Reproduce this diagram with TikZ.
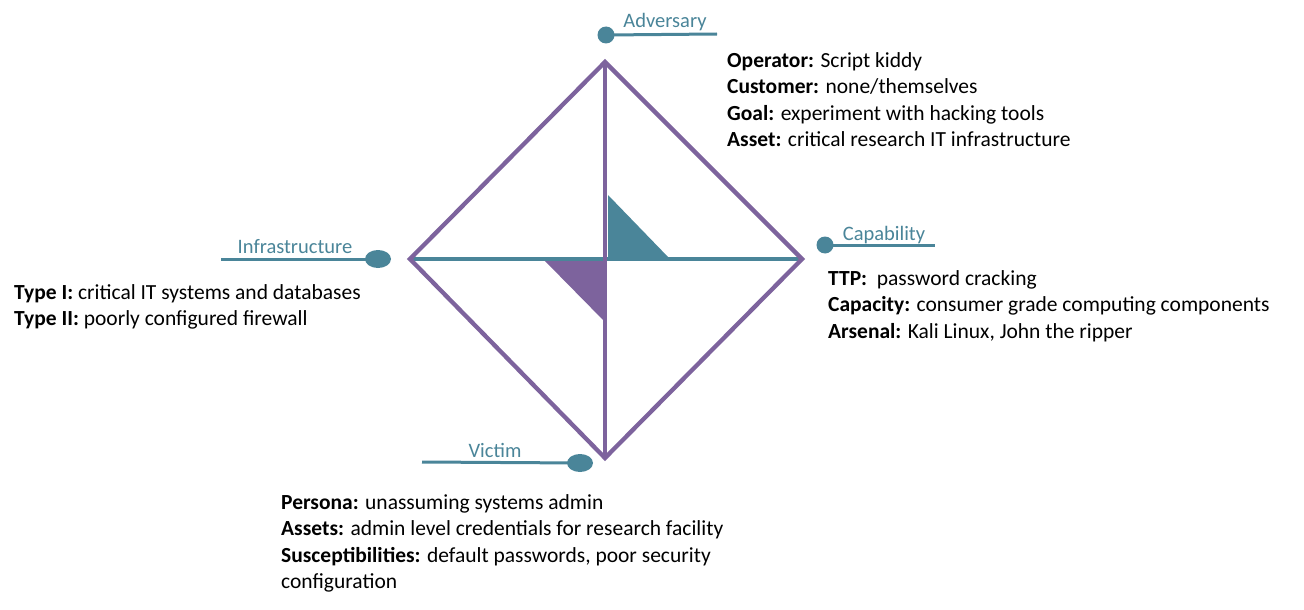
\documentclass[tikz,border=0pt]{standalone}
\usepackage{fontspec}
\setmainfont{Carlito}
\usetikzlibrary{shapes.geometric}
\definecolor{teal1}{RGB}{74,133,153}
\definecolor{purp1}{RGB}{125,99,157}
\begin{document}
\begin{tikzpicture}[x=1pt,y=-1pt,
  edge/.style={purp1,line width=4.3pt,line join=miter},
  axis/.style={teal1,line width=4.3pt},
  conn/.style={teal1,line width=3pt},
  dotc/.style={circle,fill=teal1,inner sep=0pt,minimum size=17pt},
  dote/.style={ellipse,fill=teal1,inner sep=0pt,minimum width=26pt,minimum height=18pt},
  lbl/.style={teal1,font=\fontsize{20.5}{24}\selectfont,anchor=base,inner sep=0pt},
  info/.style={font=\fontsize{21.5}{26.2}\selectfont,align=left,anchor=north west,inner sep=0pt,text=black}
]
\useasboundingbox[fill=white] (0,0) rectangle (1304,610);
% diamond vertices
\coordinate (adv) at (605,62);
\coordinate (cap) at (802,259);
\coordinate (vic) at (605,458);
\coordinate (inf) at (410,259);
% triangles
\fill[teal1] (608,195) -- (608,258) -- (669,258) -- cycle;
\fill[purp1] (544,260) -- (606,260) -- (606,323) -- cycle;
% axes
\draw[axis] (inf) -- (cap);
\draw[edge] (adv) -- (vic);
\draw[edge] (inf) -- (adv) -- (cap) -- (vic) -- cycle;
% Adversary
\node[dotc] (advdot) at (606,35) {};
\coordinate (advend) at (717,34);
\draw[conn] (advdot.center) -- (advend);
\node[lbl] (advlbl) at (665,28) {Adversary};
% Capability
\node[dotc] (capdot) at (825,245) {};
\coordinate (capend) at (935,245);
\draw[conn] (capdot.center) -- (capend);
\node[lbl] (caplbl) at (884,240) {Capability};
% Infrastructure
\node[dote] (infdot) at (378,259) {};
\coordinate (infend) at (221,259);
\draw[conn] (infend) -- (infdot.center);
\node[lbl] (inflbl) at (295,253) {Infrastructure};
% Victim
\node[dote] (vicdot) at (580,463) {};
\coordinate (vicend) at (422,462);
\draw[conn] (vicend) -- (vicdot.center);
\node[lbl] (viclbl) at (495,457) {Victim};
% info blocks
\node[info] (advinfo) at (727,52.5) {\textbf{Operator:} Script kiddy\\\textbf{Customer:} none/themselves\\\textbf{Goal:} experiment with hacking tools\\\textbf{Asset:} critical research IT infrastructure};
\node[info] (capinfo) at (828,270.5) {\textbf{TTP:}\ \ password cracking\\\textbf{Capacity:} consumer grade computing components\\\textbf{Arsenal:} Kali Linux, John the ripper};
\node[info] (infinfo) at (14,284.5) {\textbf{Type I:} critical IT systems and databases\\\textbf{Type II:} poorly configured firewall};
\node[info] (vicinfo) at (281,494.5) {\textbf{Persona:} unassuming systems admin\\\textbf{Assets:} admin level credentials for research facility\\\textbf{Susceptibilities:} default passwords, poor security\\configuration};
\end{tikzpicture}
\end{document}
